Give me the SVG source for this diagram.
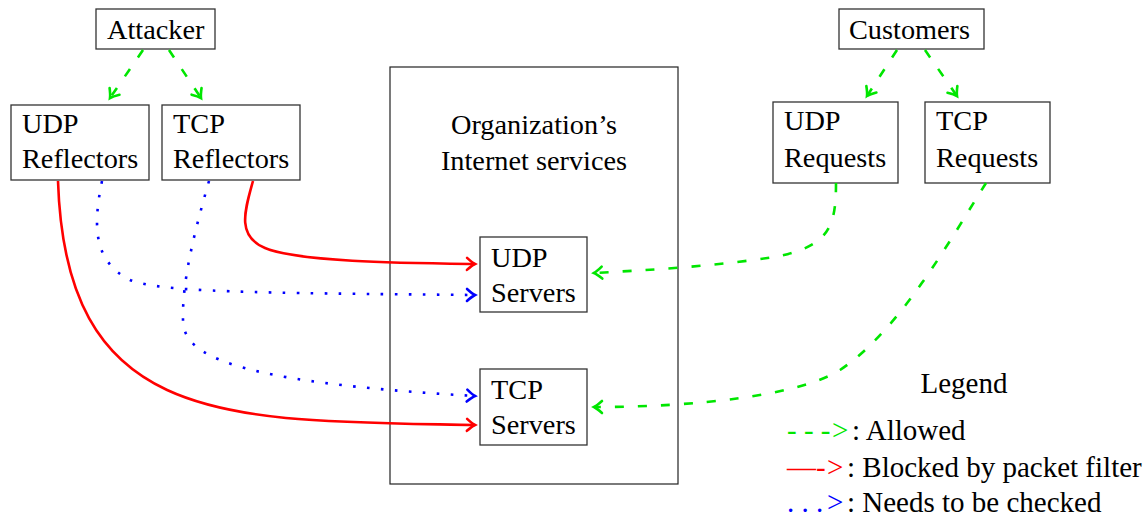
<svg xmlns="http://www.w3.org/2000/svg" width="1148" height="516" viewBox="0 0 1148 516">
  <style>
    text { font-family: "Liberation Serif", "Times New Roman", serif; font-size: 28.3px; fill: #000; }
    .legend text { font-size: 29px; }
    .legend text.g { fill: #00e600; }
    .legend text.r { fill: #ff0000; }
    .legend text.b { fill: #0000ff; }
    .box { fill: #fff; stroke: #333; stroke-width: 1.3; }
    .org { fill: none; stroke: #222; stroke-width: 1.2; }
    .link { fill: none; stroke-width: 2.6; }
    .ok { stroke: #00e600; stroke-dasharray: 9 14; }
    .blocked { stroke: #ff0000; }
    .check { stroke: #0000ff; stroke-dasharray: 2.6 11.4; }
  </style>
  <defs>
    <marker id="tipGreen" markerUnits="userSpaceOnUse" markerWidth="16" markerHeight="16" viewBox="-12 -8 16 16" refX="0" refY="0" orient="auto" overflow="visible">
      <path d="M-8,-6 Q-3,-1.5 0,0 Q-3,1.5 -8,6" fill="none" stroke="#00e600" stroke-width="2.6" stroke-linecap="round"/>
    </marker>
    <marker id="tipRed" markerUnits="userSpaceOnUse" markerWidth="16" markerHeight="16" viewBox="-12 -8 16 16" refX="0" refY="0" orient="auto" overflow="visible">
      <path d="M-8,-6 Q-3,-1.5 0,0 Q-3,1.5 -8,6" fill="none" stroke="#ff0000" stroke-width="2.6" stroke-linecap="round"/>
    </marker>
    <marker id="tipBlue" markerUnits="userSpaceOnUse" markerWidth="16" markerHeight="16" viewBox="-12 -8 16 16" refX="0" refY="0" orient="auto" overflow="visible">
      <path d="M-8,-6 Q-3,-1.5 0,0 Q-3,1.5 -8,6" fill="none" stroke="#0000ff" stroke-width="2.6" stroke-linecap="round"/>
    </marker>
  </defs>

  <!-- organisation boundary -->
  <g id="organization">
    <rect class="org" x="390" y="67" width="288" height="417"/>
    <text x="534" y="134" text-anchor="middle">Organization’s</text>
    <text x="534" y="170" text-anchor="middle">Internet services</text>
  </g>

  <g id="attacker">
    <rect class="box" x="96" y="9" width="119" height="40"/>
    <text x="107" y="39">Attacker</text>
  </g>
  <g id="udp-reflectors">
    <rect class="box" x="11" y="105" width="138" height="75"/>
    <text x="22" y="133">UDP</text>
    <text x="22" y="168">Reflectors</text>
  </g>
  <g id="tcp-reflectors">
    <rect class="box" x="162" y="105" width="138" height="75"/>
    <text x="173" y="133">TCP</text>
    <text x="173" y="168">Reflectors</text>
  </g>

  <g id="customers">
    <rect class="box" x="839" y="9" width="145" height="40"/>
    <text x="849" y="39">Customers</text>
  </g>
  <g id="udp-requests">
    <rect class="box" x="773" y="102" width="125" height="81"/>
    <text x="784" y="130">UDP</text>
    <text x="784" y="167">Requests</text>
  </g>
  <g id="tcp-requests">
    <rect class="box" x="925" y="102" width="125" height="81"/>
    <text x="936" y="130">TCP</text>
    <text x="936" y="167">Requests</text>
  </g>

  <g id="udp-servers">
    <rect class="box" x="480" y="237" width="107" height="75"/>
    <text x="491" y="267">UDP</text>
    <text x="491" y="302">Servers</text>
  </g>
  <g id="tcp-servers">
    <rect class="box" x="480" y="369" width="107" height="76"/>
    <text x="491" y="399">TCP</text>
    <text x="491" y="434">Servers</text>
  </g>

  <g id="connectors">
    <!-- sources to their reflectors / request types -->
    <path class="link ok" d="M143,50 L110,98" marker-end="url(#tipGreen)"/>
    <path class="link ok" d="M169,50 L201,98" marker-end="url(#tipGreen)"/>
    <path class="link ok" d="M897,50 L867,96" marker-end="url(#tipGreen)"/>
    <path class="link ok" d="M925,50 L957,96" marker-end="url(#tipGreen)"/>

    <!-- reflected traffic -->
    <path class="link blocked" d="M253,181 C245,210 236,236 265,248 C300,262 400,263 475,264" marker-end="url(#tipRed)"/>
    <path class="link blocked" d="M58,181 C66,430 230,420 475,425" marker-end="url(#tipRed)"/>
    <path class="link check" d="M102,181 C92,230 95,262 130,280 C160,292 250,293 475,295" marker-end="url(#tipBlue)"/>
    <path class="link check" d="M209,181 C195,230 182,280 183,320 C183,355 230,382 475,396" marker-end="url(#tipBlue)"/>

    <!-- legitimate requests -->
    <path class="link ok" d="M836,183 C836,225 830,245 780,256 C720,266 650,270 594,273" marker-end="url(#tipGreen)"/>
    <path class="link ok" d="M986,183 C950,240 900,330 840,370 C800,395 700,407 594,407" marker-end="url(#tipGreen)"/>
  </g>

  <g id="legend" class="legend">
    <text x="964" y="393" text-anchor="middle">Legend</text>
    <text class="g" x="787" y="440">- - -</text>
    <text class="g" x="832" y="440">&gt;</text>
    <text x="852" y="440">: Allowed</text>
    <text class="r" x="787" y="477">—-</text>
    <text class="r" x="827" y="477">&gt;</text>
    <text x="847" y="477">: Blocked by packet filter</text>
    <text class="b" x="787" y="512">. . .</text>
    <text class="b" x="827" y="512">&gt;</text>
    <text x="847" y="512">: Needs to be checked</text>
  </g>
</svg>
